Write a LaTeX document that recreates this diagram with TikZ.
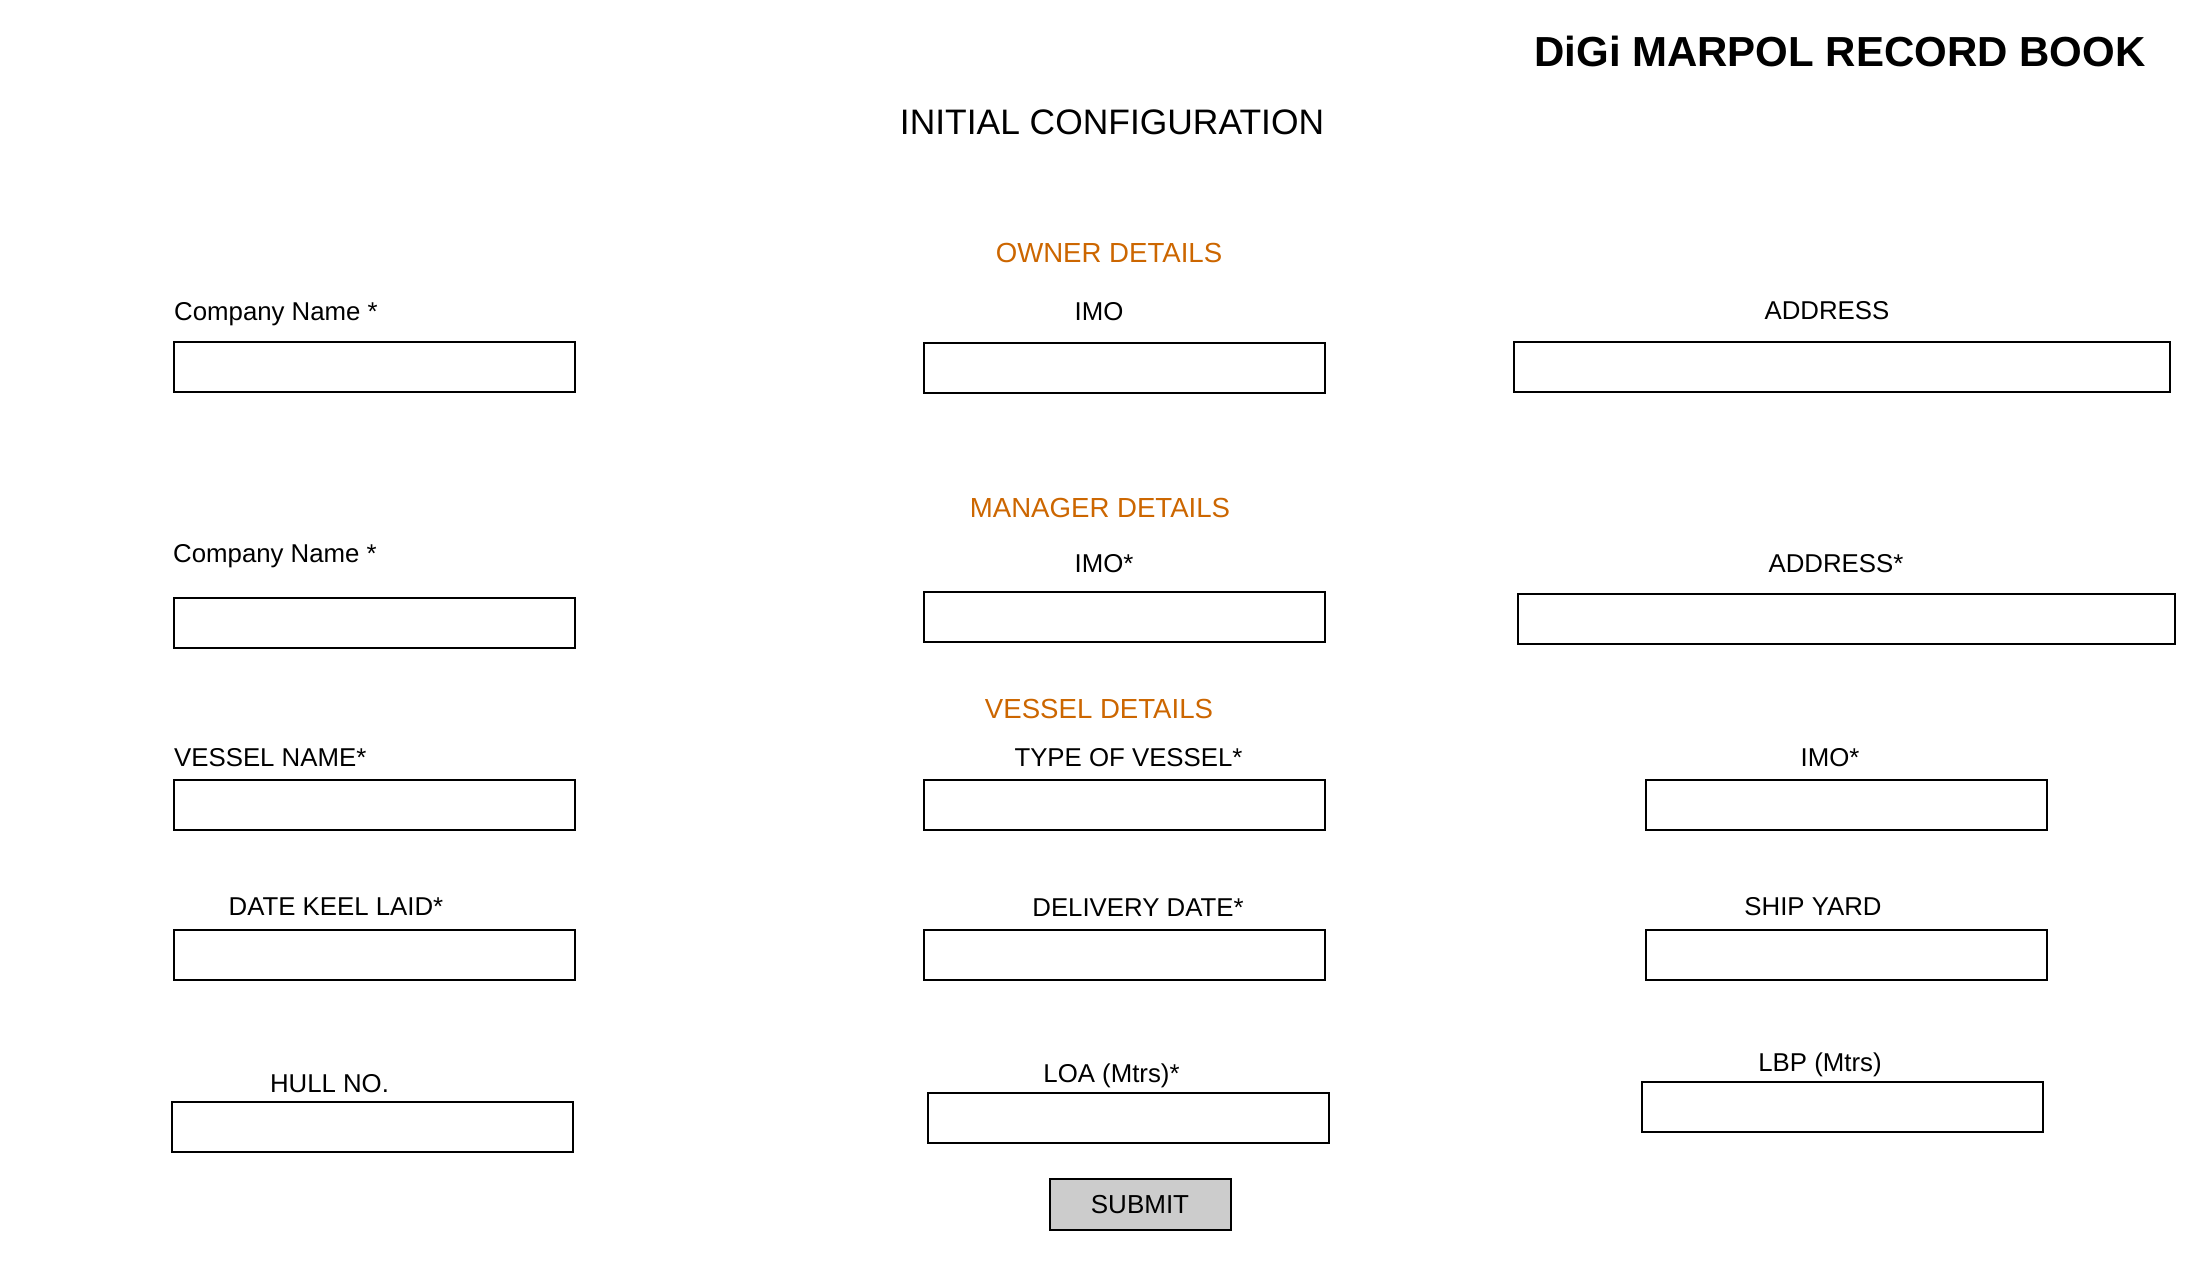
\documentclass[tikz,border=0pt]{standalone}
\usepackage{fontspec}
\setmainfont{Liberation Sans}
\definecolor{headorange}{HTML}{CC6600}
\definecolor{btngray}{HTML}{CCCCCC}

\begin{document}
\begin{tikzpicture}[x=1pt,y=-1pt,
    field/.style={draw,line width=2pt,minimum width=401pt,minimum height=50pt,inner sep=0pt},
    widefield/.style={field,minimum width=656pt},
    lbl/.style={inner sep=0pt,anchor=base,font=\fontsize{25.8}{30}\selectfont},
    lblleft/.style={lbl,anchor=base west},
    sechead/.style={inner sep=0pt,anchor=base,text=headorange,font=\fontsize{27.6}{32}\selectfont}]
  \useasboundingbox (0,0) rectangle (2212,1272);
  % titles
  \node[inner sep=0pt,anchor=base,font=\fontsize{42}{48}\selectfont\bfseries] (booktitle) at (1840,66) {DiGi MARPOL RECORD BOOK};
  \node[inner sep=0pt,anchor=base,font=\fontsize{35.4}{42}\selectfont] (pagetitle) at (1112,134) {INITIAL CONFIGURATION};
  % owner
  \node[sechead] (ownerhead) at (1109,262) {OWNER DETAILS};
  \node[lblleft] (ownconame) at (174,320) {Company Name *};
  \node[lbl] (ownimo) at (1099,320) {IMO};
  \node[lbl] (ownaddr) at (1827,319) {ADDRESS};
  \node[field] (ownconamebox) at (374,367) {};
  \node[field] (ownimobox) at (1124,367.5) {};
  \node[widefield] (ownaddrbox) at (1842,367) {};
  % manager
  \node[sechead] (manhead) at (1100,517) {MANAGER DETAILS};
  \node[lblleft] (manconame) at (173,562) {Company Name *};
  \node[lbl] (manimo) at (1104,572) {IMO*};
  \node[lbl] (manaddr) at (1836,572) {ADDRESS*};
  \node[field] (manconamebox) at (374,623) {};
  \node[field] (manimobox) at (1124,617) {};
  \node[widefield,minimum width=657pt] (manaddrbox) at (1846.5,619) {};
  % vessel
  \node[sechead] (vslhead) at (1099,718) {VESSEL DETAILS};
  \node[lblleft] (vslname) at (174,766) {VESSEL NAME*};
  \node[lbl] (vsltype) at (1128.5,766) {TYPE OF VESSEL*};
  \node[lbl] (vslimo) at (1830,766) {IMO*};
  \node[field] (vslnamebox) at (374,805) {};
  \node[field] (vsltypebox) at (1124,805) {};
  \node[field] (vslimobox) at (1846,805) {};
  \node[lbl] (keel) at (336,915) {DATE KEEL LAID*};
  \node[lbl] (delivery) at (1138,916) {DELIVERY DATE*};
  \node[lbl] (shipyard) at (1813,915) {SHIP YARD};
  \node[field] (keelbox) at (374,955) {};
  \node[field] (deliverybox) at (1124,955) {};
  \node[field] (shipyardbox) at (1846,955) {};
  \node[lbl] (hull) at (329.5,1092) {HULL NO.};
  \node[lbl] (loa) at (1111.5,1082) {LOA (Mtrs)*};
  \node[lbl] (lbp) at (1820,1071) {LBP (Mtrs)};
  \node[field] (hullbox) at (372,1127) {};
  \node[field] (loabox) at (1128,1117.5) {};
  \node[field] (lbpbox) at (1842,1107) {};
  % button
  \node[draw,line width=2pt,fill=btngray,minimum width=181pt,minimum height=51pt,inner sep=0pt,
        font=\fontsize{26}{30}\selectfont] (submit) at (1140,1204.5) {SUBMIT};
\end{tikzpicture}
\end{document}
